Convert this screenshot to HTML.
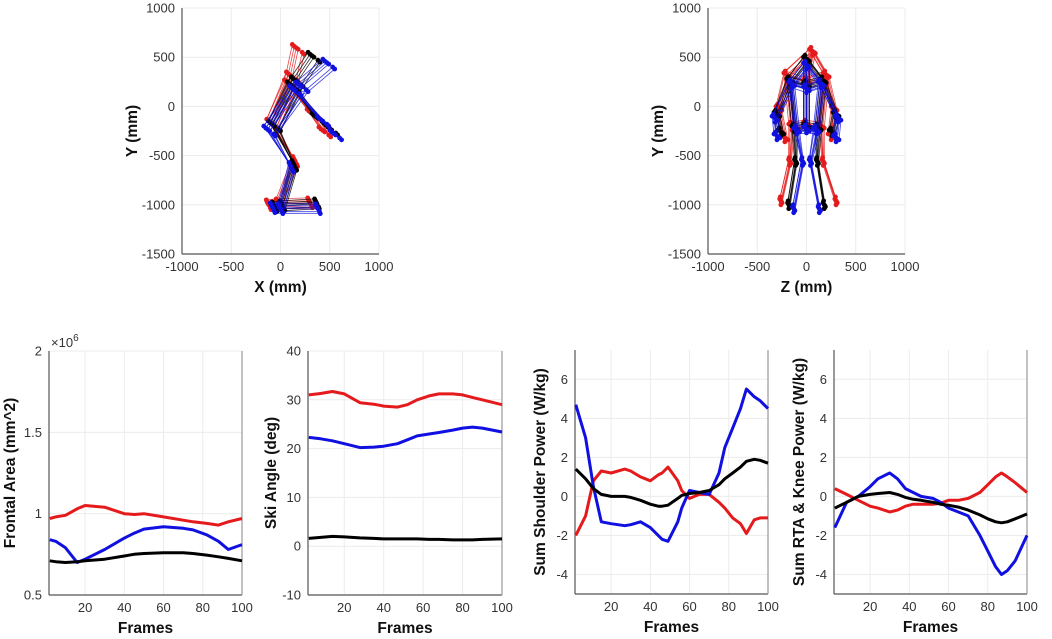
<!DOCTYPE html>
<html><head><meta charset="utf-8"><style>
html,body{margin:0;padding:0;background:#fff;}
svg{display:block;font-family:"Liberation Sans",sans-serif;}
.tk{font-size:13px;fill:#333;}
.lb{font-size:15.5px;font-weight:bold;fill:#111;}
</style></head><body>
<svg id="fig" width="1052" height="639" viewBox="0 0 1052 639" xmlns="http://www.w3.org/2000/svg"></svg>
<script>
// ---------- line chart data ----------
const faFrames=[2,5,10,16,20,30,40,45,50,60,70,75,82,88,93,100];
const faRed=[0.97,0.98,0.99,1.03,1.05,1.04,1.0,0.995,1.0,0.98,0.96,0.95,0.94,0.93,0.95,0.97];
const faBlue=[0.84,0.83,0.79,0.70,0.72,0.78,0.85,0.88,0.905,0.92,0.91,0.90,0.87,0.83,0.78,0.81];
const faBlack=[0.71,0.705,0.70,0.705,0.71,0.72,0.74,0.75,0.755,0.76,0.76,0.755,0.745,0.735,0.725,0.71];
const skFrames=[2,8,14,20,28,35,40,47,52,57,63,68,75,80,85,90,100];
const skRed=[31,31.3,31.7,31.2,29.4,29.1,28.7,28.5,29.0,30.0,30.8,31.2,31.2,31.0,30.5,30.0,29.0];
const skBlue=[22.3,22.0,21.6,21.0,20.2,20.3,20.5,21.0,21.8,22.6,23.0,23.3,23.8,24.2,24.4,24.2,23.4];
const skBlack=[1.6,1.8,2.0,1.9,1.7,1.6,1.5,1.5,1.5,1.5,1.4,1.4,1.3,1.3,1.3,1.4,1.5];
const shFrames=[2,7,11,15,20,27,30,35,40,44,46,49,54,56,60,65,70,75,78,82,86,89,93,96,100];
const shRed=[-2.0,-1.0,0.8,1.3,1.2,1.4,1.3,1.0,0.8,1.1,1.2,1.5,0.8,0.3,-0.1,0.1,0.1,-0.3,-0.6,-1.1,-1.4,-1.9,-1.2,-1.1,-1.1];
const shBlue=[4.7,3.0,0.5,-1.3,-1.4,-1.5,-1.45,-1.3,-1.6,-2.0,-2.2,-2.3,-1.3,-0.6,0.3,0.2,0.1,1.2,2.5,3.5,4.5,5.5,5.1,4.9,4.5];
const shBlack=[1.4,0.9,0.4,0.1,0.0,0.0,-0.05,-0.2,-0.4,-0.5,-0.5,-0.45,-0.1,0.05,0.15,0.2,0.3,0.6,0.9,1.2,1.5,1.8,1.9,1.85,1.7];
const kFrames=[2,8,14,20,24,30,34,38,42,46,52,56,60,65,70,76,80,84,87,90,94,100];
const kRed=[0.4,0.1,-0.2,-0.5,-0.6,-0.8,-0.7,-0.5,-0.4,-0.4,-0.4,-0.35,-0.2,-0.2,-0.1,0.2,0.6,1.0,1.2,1.0,0.7,0.2];
const kBlue=[-1.6,-0.3,0.0,0.5,0.9,1.2,0.9,0.4,0.2,0.0,-0.1,-0.3,-0.6,-0.8,-1.0,-2.0,-2.8,-3.6,-4.0,-3.8,-3.3,-2.0];
const kBlack=[-0.6,-0.3,0.0,0.1,0.15,0.2,0.1,-0.05,-0.15,-0.2,-0.3,-0.4,-0.45,-0.55,-0.7,-0.95,-1.15,-1.3,-1.35,-1.3,-1.15,-0.9];

// ---------- skeleton data (mm) ----------
const sideBase={red:[[180,580],[120,300],[100,220],[330,-80],[450,-260],[-80,-180],[150,-560],[-20,-990],[300,-980],[-120,-1000]],
 black:[[340,500],[170,250],[130,200],[380,-120],[520,-240],[-60,-200],[140,-600],[20,-1010],[370,-990],[-60,-1020]],
 blue:[[490,430],[220,200],[150,160],[430,-150],[560,-290],[-110,-250],[110,-620],[0,-1040],[380,-1040],[-80,-1030]]};
const sideOffX=[0,-40,40,-20,60,-60];
const sideOffY=[0,30,-30,15,-50,50];
const frontBase={red:[[60,560],[0,250],[-200,320],[200,320],[-280,-20],[280,-20],[-220,-320],[250,-300],[0,-180],[-150,-200],[150,-200],[-170,-560],[170,-560],[-260,-960],[300,-960]],
 black:[[0,480],[0,220],[-170,260],[170,260],[-300,-80],[300,-80],[-260,-260],[260,-260],[0,-200],[-120,-220],[120,-220],[-110,-560],[110,-560],[-180,-1000],[180,-1000]],
 blue:[[0,420],[0,180],[-150,230],[150,230],[-320,-120],[320,-120],[-300,-300],[300,-320],[0,-230],[-100,-240],[100,-240],[-40,-560],[40,-560],[-130,-1040],[130,-1040]]};
const frontOffX=[0,-30,30,0,-15,15];
const frontOffY=[0,20,-20,-40,40,-10];
const sideEdges=[[0,1],[1,2],[2,3],[3,4],[2,5],[5,6],[6,7],[7,8],[7,9],[1,5]];
const frontEdges=[[0,1],[0,2],[0,3],[1,2],[1,3],[2,4],[3,5],[4,6],[5,7],[1,8],[8,9],[8,10],[9,11],[10,12],[11,13],[12,14],[2,9],[3,10]];

const COL={red:'#e41a1c',blue:'#1010e0',black:'#000'};
const svg=document.getElementById('fig');
const NS='http://www.w3.org/2000/svg';
function mk(t,a,p){const e=document.createElementNS(NS,t);for(const k in a)e.setAttribute(k,a[k]);(p||svg).appendChild(e);return e;}
function txt(x,y,s,cls,anchor,rot,p){const e=mk('text',{x:x,y:y,class:cls,'text-anchor':anchor||'middle'},p);if(rot)e.setAttribute('transform','rotate(-90 '+x+' '+y+')');e.textContent=s;return e;}

function axes(name,L,R,T,B,xmin,xmax,ymin,ymax,xt,yt,xlab,ylab,ylx,rightLine){
  const g=mk('g',{});
  
  
  const sx=v=>L+(v-xmin)/(xmax-xmin)*(R-L), sy=v=>B-(v-ymin)/(ymax-ymin)*(B-T);
  xt.forEach(v=>{mk('line',{x1:sx(v),x2:sx(v),y1:T,y2:B,stroke:'#ececec','stroke-width':1},g);});
  yt.forEach(v=>{mk('line',{x1:L,x2:R,y1:sy(v),y2:sy(v),stroke:'#ececec','stroke-width':1},g);});
  mk('line',{x1:L,x2:L,y1:T,y2:B,stroke:'#555','stroke-width':1.2},g);
  mk('line',{x1:L,x2:R,y1:B,y2:B,stroke:'#555','stroke-width':1.2},g);
  if(rightLine)mk('line',{x1:R,x2:R,y1:T,y2:B,stroke:'#999','stroke-width':1.2},g);
  const xg=mk('g',{},g);
  
  
  xt.forEach(v=>{if(v>=xmin)txt(sx(v),B+17,String(v),'tk','middle',false,xg);});
  const yg=mk('g',{},g);
  
  
  yt.forEach(v=>{txt(L-7,sy(v)+4.5,String(v),'tk','end',false,yg);});
  const xl=txt((L+R)/2,B+38,xlab,'lb','middle',false,g);
  
  
  const cy=(T+B)/2;
  const yl=txt(ylx,cy,ylab,'lb','middle',true,g);
  
  
  return {g,sx,sy};
}
function series(ax,xs,ys,color,name){
  const d=xs.map((x,i)=>(i?'L':'M')+ax.sx(x).toFixed(1)+','+ax.sy(ys[i]).toFixed(1)).join('');
  const p=mk('path',{d:d,fill:'none',stroke:color,'stroke-width':3,'stroke-linejoin':'round'},ax.g);
  
  
}
function skeleton(ax,base,offX,offY,edges,prefix){
  ['red','black','blue'].forEach(c=>{
    const g=mk('g',{},ax.g);
    
    
    offX.forEach((ox,f)=>{
      const pts=base[c].map(p=>[ax.sx(p[0]+ox*(p[1]>-400?1:0.4)),ax.sy(p[1]+offY[f])]);
      edges.forEach(e=>mk('line',{x1:pts[e[0]][0],y1:pts[e[0]][1],x2:pts[e[1]][0],y2:pts[e[1]][1],stroke:COL[c],'stroke-width':0.8,opacity:0.8},g));
      pts.forEach(p=>mk('circle',{cx:p[0],cy:p[1],r:2.4,fill:COL[c]},g));
    });
  });
}
const mt=[-1000,-500,0,500,1000], myt=[-1500,-1000,-500,0,500,1000];
const a1=axes('side-view-plot',182,379,8,254,-1000,1000,-1500,1000,mt,myt,'X (mm)','Y (mm)',137,false);
skeleton(a1,sideBase,sideOffX,sideOffY,sideEdges,'side');
const a2=axes('front-view-plot',708,905,8,254,-1000,1000,-1500,1000,mt,myt,'Z (mm)','Y (mm)',663,false);
skeleton(a2,frontBase,frontOffX,frontOffY,frontEdges,'front');

const ft=[20,40,60,80,100];
const b1=axes('frontal-area-plot',49,242,351,595,1.6,100,0.5,2,ft,[0.5,1,1.5,2],'Frames','Frontal Area (mm^2)',15,true);
const ex=txt(51,347,'×10','tk','start',false,b1.g);


const sup=mk('tspan',{dy:-6,'font-size':10},ex);sup.textContent='6';
series(b1,faFrames,faRed,COL.red,'frontal-area-red');
series(b1,faFrames,faBlue,COL.blue,'frontal-area-blue');
series(b1,faFrames,faBlack,COL.black,'frontal-area-black');
const b2=axes('ski-angle-plot',308,502,351,595,1.6,100,-10,40,ft,[-10,0,10,20,30,40],'Frames','Ski Angle (deg)',276,true);
series(b2,skFrames,skRed,COL.red,'ski-angle-red');
series(b2,skFrames,skBlue,COL.blue,'ski-angle-blue');
series(b2,skFrames,skBlack,COL.black,'ski-angle-black');
const b3=axes('shoulder-power-plot',575,768,350,594,1.6,100,-5,7.5,ft,[-4,-2,0,2,4,6],'Frames','Sum Shoulder Power (W/kg)',545,true);
series(b3,shFrames,shRed,COL.red,'shoulder-power-red');
series(b3,shFrames,shBlue,COL.blue,'shoulder-power-blue');
series(b3,shFrames,shBlack,COL.black,'shoulder-power-black');
const b4=axes('rta-knee-power-plot',834,1027,350,594,1.6,100,-5,7.5,ft,[-4,-2,0,2,4,6],'Frames','Sum RTA & Knee Power (W/kg)',804,true);
series(b4,kFrames,kRed,COL.red,'rta-knee-power-red');
series(b4,kFrames,kBlue,COL.blue,'rta-knee-power-blue');
series(b4,kFrames,kBlack,COL.black,'rta-knee-power-black');
</script>
</body></html>
